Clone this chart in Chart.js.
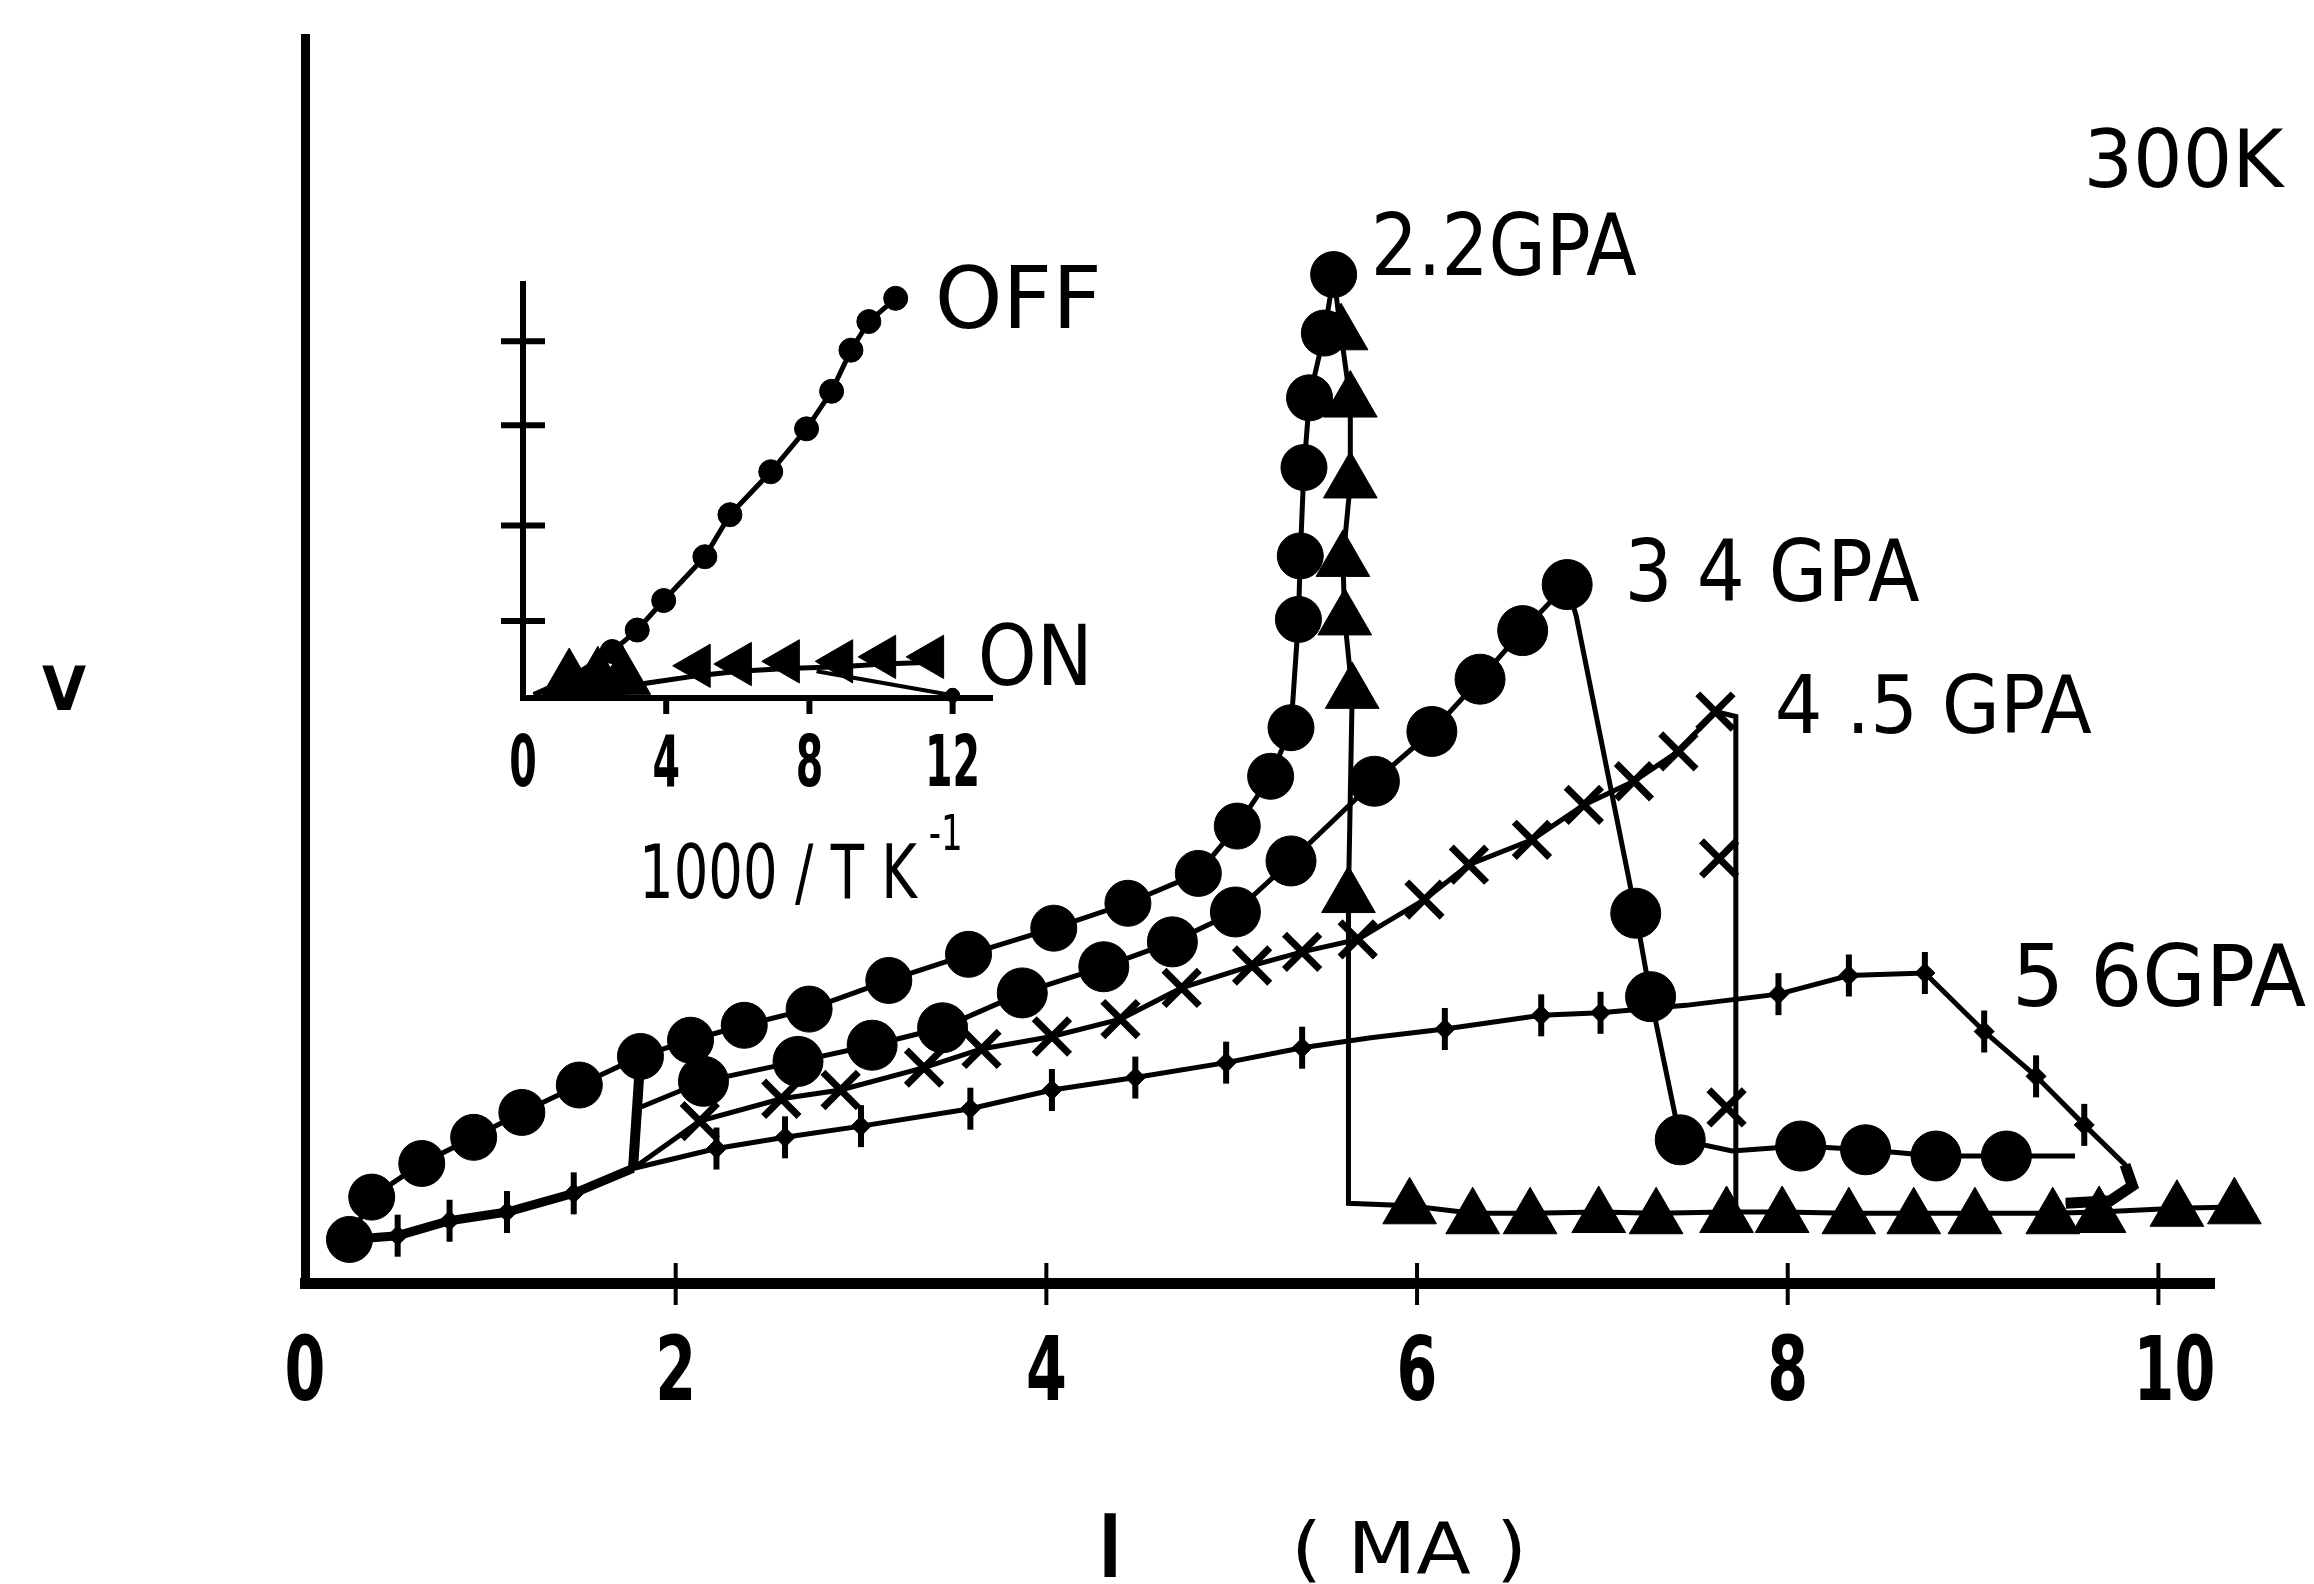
<!DOCTYPE html>
<html><head><meta charset="utf-8">
<script src="https://cdn.jsdelivr.net/npm/chart.js@4.4.0/dist/chart.umd.min.js"></script>
<style>
html,body{margin:0;padding:0;background:#fff;}
#wrap{position:relative;width:2314px;height:1584px;background:#fff;}
#main{position:absolute;left:0;top:0;}
#inset{position:absolute;left:420px;top:220px;}
</style></head><body>
<div id="wrap">
<canvas id="main" width="2314" height="1584"></canvas>
<canvas id="inset" width="700" height="700"></canvas>
</div>
<script>
// ---------- MAIN CHART DATA (x: I in mA, y: V arbitrary units) ----------
const xTicks = [0, 2, 4, 6, 8, 10];

// 2.2 GPa, filled circles (rising branch up to the switching peak)
const gpa22Circles = [[0.24,0.35],[0.36,0.69],[0.63,0.96],[0.91,1.17],[1.17,1.37],[1.48,1.59],[1.81,1.82],[2.08,1.95],[2.37,2.07],[2.72,2.20],[3.15,2.43],[3.58,2.64],[4.04,2.85],[4.44,3.05],[4.82,3.29],[5.03,3.67],[5.21,4.07],[5.32,4.46],[5.36,5.33],[5.37,5.84],[5.39,6.55],[5.42,7.11],[5.50,7.63],[5.55,8.10]];

// 2.2 GPa, triangles: switching branch and low-voltage ON branch
const gpa22TriPath = [[5.55,8.10],[5.59,7.62],[5.64,7.08],[5.64,6.43],[5.60,5.80],[5.61,5.33],[5.65,4.74],[5.63,3.10],[5.63,0.64],[5.96,0.62],[6.30,0.56],[6.61,0.56],[6.98,0.57],[7.29,0.56],[7.67,0.57],[7.97,0.57],[8.33,0.56],[8.68,0.56],[9.01,0.56],[9.43,0.56],[9.68,0.57],[10.10,0.60],[10.41,0.61]];
const gpa22TriMarks = [[5.59,7.62],[5.64,7.08],[5.64,6.43],[5.60,5.80],[5.61,5.33],[5.65,4.74],[5.63,3.10],[5.96,0.60],[6.30,0.52],[6.61,0.52],[6.98,0.53],[7.29,0.52],[7.67,0.53],[7.97,0.53],[8.33,0.52],[8.68,0.52],[9.01,0.52],[9.43,0.52],[9.68,0.53],[10.10,0.58],[10.41,0.60]];

// vertical jump near 1.8 mA
const jumpLine = [[1.77,0.92],[1.81,1.82]];

// 3.4 GPa, filled hexagon-like dots
const gpa34Path = [[1.79,1.40],[2.15,1.62],[2.66,1.78],[3.06,1.91],[3.44,2.05],[3.87,2.33],[4.31,2.54],[4.68,2.74],[5.02,2.98],[5.32,3.39],[5.77,4.03],[6.08,4.43],[6.34,4.85],[6.57,5.24],[6.81,5.61],[6.86,5.35],[7.18,2.97],[7.26,2.30],[7.42,1.15],[7.70,1.06],[8.07,1.10],[8.42,1.07],[8.80,1.02],[9.18,1.02],[9.55,1.02]];
const gpa34Marks = [[2.15,1.62],[2.66,1.78],[3.06,1.91],[3.44,2.05],[3.87,2.33],[4.31,2.54],[4.68,2.74],[5.02,2.98],[5.32,3.39],[5.77,4.03],[6.08,4.43],[6.34,4.85],[6.57,5.24],[6.81,5.61],[7.18,2.97],[7.26,2.30],[7.42,1.15],[8.07,1.10],[8.42,1.07],[8.80,1.02],[9.18,1.02]];

// 4.5 GPa, crosses
const gpa45Path = [[1.77,0.92],[2.13,1.30],[2.57,1.48],[2.89,1.55],[3.34,1.73],[3.65,1.88],[4.03,1.98],[4.40,2.12],[4.73,2.37],[5.11,2.55],[5.38,2.66],[5.68,2.76],[6.04,3.08],[6.28,3.36],[6.62,3.56],[6.90,3.84],[7.17,4.03],[7.41,4.27],[7.61,4.59],[7.72,4.55],[7.72,0.55]];
const gpa45Marks = [[2.13,1.30],[2.57,1.48],[2.89,1.55],[3.34,1.73],[3.65,1.88],[4.03,1.98],[4.40,2.12],[4.73,2.37],[5.11,2.55],[5.38,2.66],[5.68,2.76],[6.04,3.08],[6.28,3.36],[6.62,3.56],[6.90,3.84],[7.17,4.03],[7.41,4.27],[7.61,4.59],[7.63,3.41],[7.67,1.41]];

// 5.6 GPa, small vertical-tick markers
const gpa56Path = [[0.24,0.35],[0.50,0.38],[0.78,0.50],[1.09,0.57],[1.45,0.72],[1.77,0.92],[2.22,1.08],[2.59,1.17],[3.00,1.26],[3.59,1.40],[4.03,1.55],[4.48,1.65],[4.97,1.77],[5.38,1.89],[5.75,1.97],[6.15,2.04],[6.67,2.15],[6.99,2.17],[7.45,2.23],[7.95,2.32],[8.33,2.47],[8.74,2.49],[9.06,2.02],[9.34,1.66],[9.60,1.27],[9.82,0.95],[9.86,0.78],[9.74,0.66],[9.50,0.64]];
const gpa56Marks = [[0.50,0.38],[0.78,0.50],[1.09,0.57],[1.45,0.72],[2.22,1.08],[2.59,1.17],[3.00,1.26],[3.59,1.40],[4.03,1.55],[4.48,1.65],[4.97,1.77],[5.38,1.89],[6.15,2.04],[6.67,2.15],[6.99,2.17],[7.95,2.32],[8.33,2.47],[8.74,2.49],[9.06,2.02],[9.34,1.66],[9.60,1.27]];

// ---------- INSET DATA (x: 1000/T in K^-1) ----------
const insetXTicks = [0, 4, 8, 12];
const insetYTicks = [0.86, 1.93, 3.05, 3.99];
const offPath = [[0.3,0.04],[1.2,0.20],[2.49,0.52],[3.19,0.76],[3.93,1.09],[5.08,1.58],[5.78,2.05],[6.92,2.53],[7.92,3.01],[8.62,3.43],[9.16,3.89],[9.66,4.21],[10.41,4.47]];
const offMarks = [[2.49,0.52],[3.19,0.76],[3.93,1.09],[5.08,1.58],[5.78,2.05],[6.92,2.53],[7.92,3.01],[8.62,3.43],[9.16,3.89],[9.66,4.21],[10.41,4.47]];
const onPath = [[0.3,0.03],[1.29,0.20],[2.09,0.22],[2.79,0.24],[3.19,0.15],[4.88,0.25],[6.03,0.30],[7.37,0.33],[8.86,0.35],[10.06,0.38],[11.40,0.40]];
const onBlobMarks = [[1.29,0.20],[2.09,0.22],[2.79,0.22]];
const onMarks = [[4.88,0.36],[6.03,0.38],[7.37,0.41],[8.86,0.41],[10.06,0.46],[11.40,0.46]];
const onReturn = [[8.2,0.30],[12.0,0.03]];

// ---------- helpers ----------
const P = a => a.map(p => ({x: p[0], y: p[1]}));
const BLACK = '#000';
function lineDS(arr, w) {
  return {data: P(arr), showLine: true, borderColor: BLACK, borderWidth: w, pointRadius: 0, tension: 0, fill: false, clip: false};
}
function markDS(arr, style, r, bw, rot) {
  return {data: P(arr), showLine: false, pointStyle: style, pointRadius: r, pointHoverRadius: r,
    pointBackgroundColor: BLACK, pointBorderColor: BLACK, pointBorderWidth: bw, pointRotation: rot || 0, clip: false};
}
function drawText(ctx, t, px, py, size, weight, align, targetW, sx) {
  ctx.save();
  ctx.font = (weight || 'normal') + ' ' + size + 'px "DejaVu Sans"';
  ctx.fillStyle = BLACK;
  ctx.textBaseline = 'alphabetic';
  const w = ctx.measureText(t).width;
  const s = targetW ? targetW / w : (sx || 1);
  ctx.translate(px, py + 0.729 * size / 2);
  ctx.scale(s, 1);
  ctx.textAlign = align || 'left';
  ctx.fillText(t, 0, 0);
  ctx.restore();
}

// label specs (data-coordinate anchors)
const mainLabels = [
  {t: '2.2GPA', x: 5.75, y: 8.35, size: 86, w: 266},
  {t: '3 4 GPA', x: 7.12, y: 5.73, size: 86, w: 295},
  {t: '4 .5 GPA', x: 7.93, y: 4.65, size: 80, w: 317},
  {t: '5 6GPA', x: 9.21, y: 2.48, size: 86, w: 294},
  {t: '300K', x: 10.675, y: 9.04, size: 80, align: 'right', w: 200},
  {t: 'V', x: -1.30, y: 4.78, size: 60, weight: 'bold', align: 'center', sx: 0.95},
  {t: 'I', x: 4.344, y: -2.10, size: 88, align: 'center', sx: 1.3},
  {t: '( MA )', x: 5.32, y: -2.12, size: 71, w: 236}
];
const insetLabels = [
  {t: 'OFF', x: 11.50, y: 4.49, size: 86, w: 167},
  {t: 'ON', x: 12.70, y: 0.49, size: 84, w: 115},
  {t: '1000 / T K', x: 3.24, y: -1.94, size: 74, w: 278},
  {t: '-1', x: 11.33, y: -1.50, size: 50, w: 34}
];

const mainPlugin = {
  id: 'mainDeco',
  afterDatasetsDraw(chart) {
    const ctx = chart.ctx, xs = chart.scales.x, ys = chart.scales.y;
    const y0 = ys.getPixelForValue(0);
    ctx.save();
    ctx.strokeStyle = BLACK; ctx.lineWidth = 4;
    xTicks.slice(1).forEach(v => {
      const px = xs.getPixelForValue(v);
      ctx.beginPath(); ctx.moveTo(px, y0 - 20); ctx.lineTo(px, y0 + 22); ctx.stroke();
    });
    ctx.restore();
    xTicks.forEach(v => {
      drawText(ctx, String(v), xs.getPixelForValue(v) + (v >= 10 ? 16 : 0), ys.getPixelForValue(-0.683), 89, 'bold', 'center', null, 0.66);
    });
    mainLabels.forEach(L => drawText(ctx, L.t, xs.getPixelForValue(L.x), ys.getPixelForValue(L.y), L.size, L.weight, L.align, L.w, L.sx));
  }
};

new Chart(document.getElementById('main'), {
  type: 'scatter',
  data: {datasets: [
    lineDS(gpa56Path, 5), lineDS(gpa56Path.slice(0, 6), 9), lineDS(gpa56Path.slice(-4), 11),
    lineDS(gpa45Path, 5), lineDS(gpa34Path, 5), lineDS(jumpLine, 10),
    lineDS(gpa22TriPath, 5), lineDS(gpa22Circles, 5),
    markDS(gpa56Marks, 'line', 21, 6, 90), markDS(gpa56Marks, 'rectRot', 10, 1),
    markDS(gpa45Marks, 'crossRot', 25, 7),
    markDS(gpa34Marks, 'circle', 25, 1),
    markDS(gpa22TriMarks, 'triangle', 31, 1),
    markDS(gpa22Circles, 'circle', 23, 1)
  ]},
  options: {
    responsive: false, animation: false, devicePixelRatio: 1,
    layout: {padding: {left: 305, right: 100, top: 38, bottom: 301}},
    plugins: {legend: {display: false}, tooltip: {enabled: false}},
    events: [],
    scales: {
      x: {type: 'linear', min: 0, max: 10.3, grid: {display: false, drawTicks: false}, ticks: {display: false},
          border: {display: true, color: BLACK, width: 11}, afterFit(s) { s.height = 0; }},
      y: {type: 'linear', min: 0, max: 10, grid: {display: false, drawTicks: false}, ticks: {display: false},
          border: {display: true, color: BLACK, width: 9}, afterFit(s) { s.width = 0; }}
    }
  },
  plugins: [mainPlugin]
});

const insetPlugin = {
  id: 'insetDeco',
  afterDatasetsDraw(chart) {
    const ctx = chart.ctx, xs = chart.scales.x, ys = chart.scales.y;
    const x0 = xs.getPixelForValue(0), y0 = ys.getPixelForValue(0);
    ctx.save();
    ctx.strokeStyle = BLACK; ctx.lineWidth = 6;
    insetYTicks.forEach(v => {
      const py = ys.getPixelForValue(v);
      ctx.beginPath(); ctx.moveTo(x0 - 22, py); ctx.lineTo(x0 + 22, py); ctx.stroke();
    });
    insetXTicks.slice(1).forEach(v => {
      const px = xs.getPixelForValue(v);
      ctx.beginPath(); ctx.moveTo(px, y0 - (v === 12 ? 10 : 0)); ctx.lineTo(px, y0 + 16); ctx.stroke();
    });
    ctx.restore();
    insetXTicks.forEach(v => {
      drawText(ctx, String(v), xs.getPixelForValue(v), ys.getPixelForValue(-0.69), 72, 'bold', 'center', null, 0.55);
    });
    insetLabels.forEach(L => drawText(ctx, L.t, xs.getPixelForValue(L.x), ys.getPixelForValue(L.y), L.size, L.weight, L.align, L.w, L.sx));
  }
};

new Chart(document.getElementById('inset'), {
  type: 'scatter',
  data: {datasets: [
    lineDS(offPath, 5), lineDS(onPath, 5), lineDS(onReturn, 4),
    markDS(offMarks, 'circle', 12, 1),
    markDS(onBlobMarks, 'triangle', 32, 1),
    markDS(onMarks, 'triangle', 25, 1, -90),
    markDS(onReturn.slice(1), 'circle', 7, 1)
  ]},
  options: {
    responsive: false, animation: false, devicePixelRatio: 1,
    layout: {padding: {left: 103, right: 128, top: 64, bottom: 222}},
    plugins: {legend: {display: false}, tooltip: {enabled: false}},
    events: [],
    scales: {
      x: {type: 'linear', min: 0, max: 13.1, grid: {display: false, drawTicks: false}, ticks: {display: false},
          border: {display: true, color: BLACK, width: 6}, afterFit(s) { s.height = 0; }},
      y: {type: 'linear', min: 0, max: 4.63, grid: {display: false, drawTicks: false}, ticks: {display: false},
          border: {display: true, color: BLACK, width: 6}, afterFit(s) { s.width = 0; }}
    }
  },
  plugins: [insetPlugin]
});
</script>
</body></html>
